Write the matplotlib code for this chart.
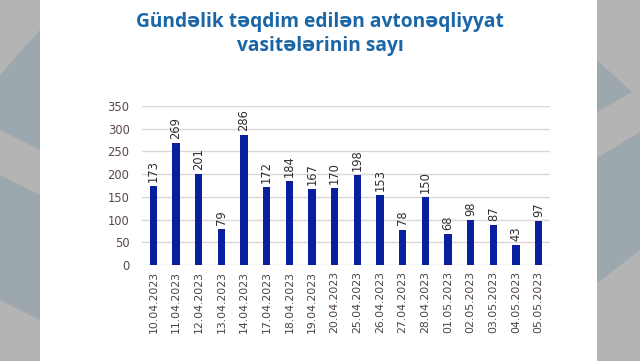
import matplotlib
matplotlib.use("Agg")
import matplotlib.pyplot as plt
from matplotlib.patches import Rectangle, Polygon

dates = ["10.04.2023", "11.04.2023", "12.04.2023", "13.04.2023", "14.04.2023",
         "17.04.2023", "18.04.2023", "19.04.2023", "20.04.2023", "25.04.2023",
         "26.04.2023", "27.04.2023", "28.04.2023", "01.05.2023", "02.05.2023",
         "03.05.2023", "04.05.2023", "05.05.2023"]
values = [173, 269, 201, 79, 286, 172, 184, 167, 170, 198, 153, 78, 150, 68, 98, 87, 43, 97]
yticks = [0, 50, 100, 150, 200, 250, 300, 350]
title = "Gündəlik təqdim edilən avtonəqliyyat\nvasitələrinin sayı"

W, H = 640, 361
fig = plt.figure(figsize=(6.4, 3.61), dpi=100)
fig.patch.set_facecolor("#b4b4b4")

def fx(x):
    return x / W

def fy(y):
    return 1 - y / H

# decorative background shapes
shapes = [
    [(0, 75), (40, 30), (40, 150), (0, 130)],
    [(0, 175), (40, 195), (40, 320), (0, 300)],
    [(597, 60), (632, 92), (597, 112)],
    [(597, 158), (640, 132), (640, 250), (597, 283)],
]
for s in shapes:
    fig.patches.append(Polygon([(fx(a), fy(b)) for a, b in s], closed=True,
                               transform=fig.transFigure, facecolor="#9ca7ae",
                               edgecolor="none", zorder=0))
fig.patches.append(Rectangle((fx(40), 0), fx(557), 1, transform=fig.transFigure,
                             facecolor="white", edgecolor="none", zorder=1))

fig.text(0.5, fy(34), title, ha="center", va="center", fontsize=13.8,
         fontweight="bold", color="#1a66a6", linespacing=1.25,
         family=["Open Sans", "DejaVu Sans"], zorder=3)

ax = fig.add_axes([fx(142), fy(265), fx(550 - 142), fy(106) - fy(265)])
ax.set_facecolor("none")
ax.set_zorder(2)
x = list(range(len(values)))
ax.bar(x, values, width=0.33, color="#0a1f9e", zorder=3)
for xi, v in zip(x, values):
    ax.annotate(str(v), (xi, v), xytext=(0, 3), textcoords="offset points",
                rotation=90, ha="center", va="bottom", fontsize=8.3,
                color="#2e2e2e")
ax.set_xlim(-0.5, len(values) - 0.5)
ax.set_ylim(0, 350)
ax.set_yticks(yticks)
ax.set_yticklabels([str(t) for t in yticks], fontsize=8.3, color="#5a4848")
ax.set_xticks(x)
ax.set_xticklabels(dates, rotation=90, fontsize=7.8, color="#4e4040")
ax.tick_params(axis="x", length=0, pad=4)
ax.tick_params(axis="y", length=0, pad=9)
ax.grid(axis="y", color="#dcd6d6", linewidth=1, zorder=0)
for sp in ax.spines.values():
    sp.set_visible(False)

fig.savefig("out.png", dpi=100, facecolor=fig.get_facecolor())
